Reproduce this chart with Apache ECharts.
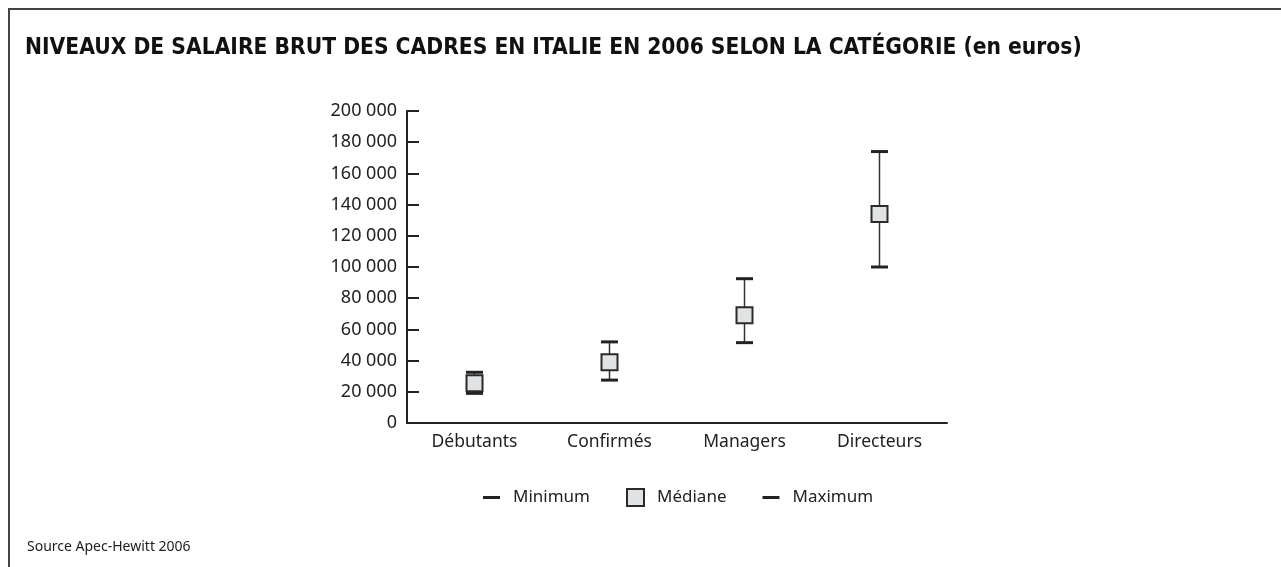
<!DOCTYPE html>
<html>
<head>
<meta charset="utf-8">
<script src="https://cdn.jsdelivr.net/npm/echarts@6/dist/echarts.min.js"></script>
<style>
  html, body { margin: 0; padding: 0; background: #fff; }
  #chart { width: 1281px; height: 567px; }
</style>
</head>
<body>
<div id="chart"></div>
<script>
// salary levels in euros
const categories = ["Débutants", "Confirmés", "Managers", "Directeurs"];
const minimum = [19000, 27500, 51500, 100000];
const mediane = [25500, 39000, 69000, 134000];
const maximum = [32500, 52000, 92500, 174000];

const FONT = "Noto Sans";
const INK = "#222";

const capPath = "path://M0,0H17V3H0Z";

function fmt(v) {
  return String(v).replace(/\B(?=(\d{3})+(?!\d))/g, " ");
}

const chart = echarts.init(document.getElementById("chart"));

chart.setOption({
  animation: false,
  textStyle: { fontFamily: FONT, color: INK },
  title: [
    {
      text: "NIVEAUX DE SALAIRE BRUT DES CADRES EN ITALIE EN 2006 SELON LA CATÉGORIE (en euros)",
      left: 20,
      top: 32,
      textStyle: {
        fontFamily: "DejaVu Sans Condensed",
        fontWeight: "bold",
        fontSize: 22.6,
        color: "#111",
      },
    },
    {
      text: "Source Apec-Hewitt 2006",
      left: 22,
      top: 535,
      textStyle: { fontFamily: FONT, fontSize: 14, fontWeight: "normal", color: INK },
    },
  ],
  graphic: [
    {
      type: "polyline",
      shape: { points: [[9, 567], [9, 9], [1281, 9]] },
      style: { stroke: "#444", lineWidth: 2, fill: null },
    },
  ],
  legend: {
    left: 478,
    top: 483,
    itemWidth: 17,
    itemHeight: 17,
    itemGap: 36,
    textStyle: { fontFamily: FONT, fontSize: 17, color: INK, padding: [0, 0, 0, 8] },
    data: [
      { name: "Minimum", icon: capPath, itemStyle: { color: INK, borderWidth: 0 } },
      { name: "Médiane", icon: "rect" },
      { name: "Maximum", icon: capPath, itemStyle: { color: INK, borderWidth: 0 } },
    ],
  },
  grid: { left: 407, right: 334, top: 111, bottom: 144 },
  xAxis: {
    type: "category",
    data: categories,
    boundaryGap: true,
    axisLine: { lineStyle: { color: INK, width: 2 } },
    axisTick: { inside: true, length: 7, lineStyle: { color: INK, width: 2 } },
    axisLabel: { fontFamily: FONT, fontSize: 17.5, color: INK, margin: 10 },
  },
  yAxis: {
    type: "value",
    min: 0,
    max: 200000,
    interval: 20000,
    splitLine: { show: false },
    axisLine: { show: true, lineStyle: { color: INK, width: 2 } },
    axisTick: { show: true, inside: true, length: 12, lineStyle: { color: INK, width: 2 } },
    axisLabel: { fontFamily: FONT, fontSize: 18, color: INK, margin: 10, formatter: fmt },
  },
  series: [
    {
      type: "custom",
      silent: true,
      z: 1,
      data: categories.map((c, i) => [i, minimum[i], maximum[i]]),
      renderItem(params, api) {
        const lo = api.coord([api.value(0), api.value(1)]);
        const hi = api.coord([api.value(0), api.value(2)]);
        return {
          type: "line",
          shape: { x1: lo[0], y1: lo[1], x2: hi[0], y2: hi[1] },
          style: { stroke: "#333", lineWidth: 1.5 },
        };
      },
    },
    {
      name: "Minimum",
      type: "scatter",
      z: 2,
      symbol: capPath,
      symbolSize: [17, 3],
      symbolKeepAspect: false,
      itemStyle: { color: INK, opacity: 1 },
      data: minimum,
    },
    {
      name: "Maximum",
      type: "scatter",
      z: 2,
      symbol: capPath,
      symbolSize: [17, 3],
      symbolKeepAspect: false,
      itemStyle: { color: INK, opacity: 1 },
      data: maximum,
    },
    {
      name: "Médiane",
      type: "scatter",
      z: 3,
      symbol: "rect",
      symbolSize: 16,
      itemStyle: { color: "#e1e2e3", borderColor: "#2a2a2a", borderWidth: 2, opacity: 1 },
      data: mediane,
    },
  ],
});
</script>
</body>
</html>
